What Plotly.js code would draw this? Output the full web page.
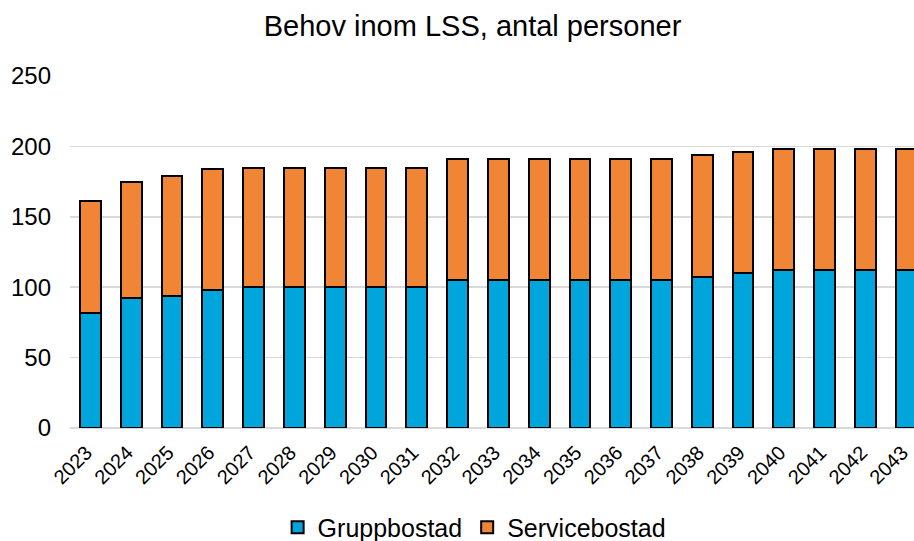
<!DOCTYPE html>
<html>
<head>
<meta charset="utf-8">
<script src="https://cdn.plot.ly/plotly-3.0.1.min.js"></script>
<style>html,body{margin:0;padding:0;background:#fff;}#chart{width:914px;height:541px;}</style>
</head>
<body>
<div id="chart"></div>
<script>
const years = ["2023","2024","2025","2026","2027","2028","2029","2030","2031","2032","2033","2034","2035","2036","2037","2038","2039","2040","2041","2042","2043"];
const gruppbostad = [82, 92, 94, 98, 100, 100, 100, 100, 100, 105, 105, 105, 105, 105, 105, 107, 110, 112, 112, 112, 112];
const servicebostad = [79, 83, 85, 86, 85, 85, 85, 85, 85, 86, 86, 86, 86, 86, 86, 87, 86, 86, 86, 86, 86];
const yTicks = [0, 50, 100, 150, 200, 250];

const font = "Liberation Sans, Arial, sans-serif";
const traces = [
  {type: "bar", name: "Gruppbostad", x: years, y: gruppbostad,
   marker: {color: "#00A6DB", line: {color: "#000", width: 2}}},
  {type: "bar", name: "Servicebostad", x: years, y: servicebostad,
   marker: {color: "#F08536", line: {color: "#000", width: 2}}}
];
const layout = {
  width: 914, height: 541,
  barmode: "stack", bargap: 0.49,
  margin: {l: 70, r: 0, t: 76, b: 113, autoexpand: false},
  paper_bgcolor: "#fff", plot_bgcolor: "#fff",
  font: {family: font, color: "#000"},
  title: {text: "Behov inom LSS, antal personer", font: {size: 29, family: font, color: "#000"},
          xref: "container", x: 0.517, xanchor: "center", yref: "container", y: 0.952, yanchor: "middle"},
  xaxis: {type: "category", range: [-0.5, 20.19], tickangle: -45, tickfont: {size: 20},
          showgrid: false, showline: false, ticks: "", ticklabelstandoff: 8, ticklabelshift: -4, automargin: false},
  yaxis: {range: [0, 250], tickvals: yTicks, tickfont: {size: 24}, showgrid: true,
          gridcolor: "#d9d9d9", gridwidth: 1.5, zeroline: true, zerolinecolor: "#d9d9d9", zerolinewidth: 1.5,
          showline: false, ticks: "", ticklabelstandoff: 18, automargin: false},
  showlegend: true,
  legend: {orientation: "h", x: 0.246, xanchor: "left", y: -0.283, yanchor: "middle",
           font: {size: 25}, traceorder: "normal", itemwidth: 30}
};
Plotly.newPlot("chart", traces, layout, {displayModeBar: false, staticPlot: true});
</script>
</body>
</html>
